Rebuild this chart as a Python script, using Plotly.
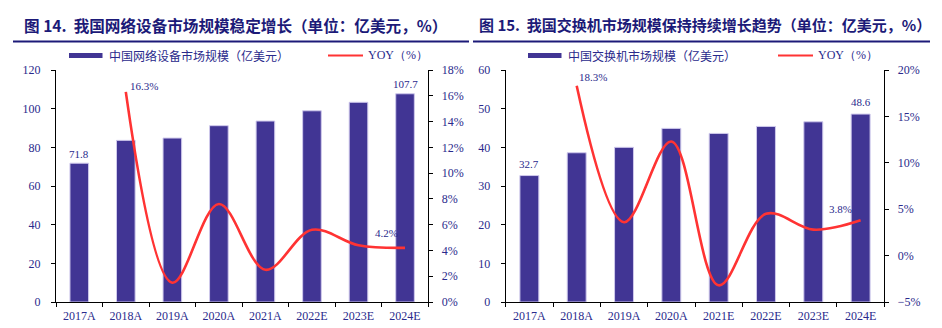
import plotly.graph_objects as go

# ---------------- data ----------------
cats1 = ["2017A", "2018A", "2019A", "2020A", "2021A", "2022E", "2023E", "2024E"]
market1 = [71.8, 83.6, 84.8, 91.2, 93.6, 98.9, 103.3, 107.7]
yoy1 = [None, 16.3, 1.5, 7.6, 2.5, 5.6, 4.4, 4.2]

cats2 = ["2017A", "2018A", "2019A", "2020A", "2021E", "2022E", "2023E", "2024E"]
market2 = [32.7, 38.6, 40.0, 44.9, 43.6, 45.4, 46.6, 48.6]
yoy2 = [None, 18.3, 3.6, 12.3, -3.2, 4.5, 2.8, 3.8]

title1 = "图 14.  我国网络设备市场规模稳定增长（单位：亿美元，%）"
title2 = "图 15.  我国交换机市场规模保持持续增长趋势（单位：亿美元，%）"
legend_bar1 = "中国网络设备市场规模（亿美元）"
legend_bar2 = "中国交换机市场规模（亿美元）"
legend_line = "YOY（%）"

# ---------------- styles ----------------
W, H = 942, 328
BAR = "#413594"
BAR_EDGE = "#cfc9ec"
RED = "#ff3333"
NAVY = "#2a2a8c"
TITLE_C = "#1c1a78"
SERIF = "Liberation Serif, Times New Roman, serif"
CJK = "Noto Sans CJK SC, sans-serif"


def px_x(v):
    return v / W


def px_y(v):
    return (H - v) / H


ydom = [px_y(302), px_y(70)]
xdom1 = [px_x(56), px_x(428.3)]
xdom2 = [px_x(505.7), px_x(884.3)]

fig = go.Figure()

fig.add_trace(go.Bar(x=cats1, y=market1, xaxis="x", yaxis="y", width=0.4,
                     marker=dict(color=BAR, line=dict(color=BAR_EDGE, width=1)),
                     showlegend=False))
fig.add_trace(go.Scatter(x=cats1[1:], y=yoy1[1:], xaxis="x", yaxis="y2", mode="lines",
                         line=dict(color=RED, width=2.6, shape="spline", smoothing=1.0),
                         showlegend=False))
fig.add_trace(go.Bar(x=cats2, y=market2, xaxis="x2", yaxis="y3", width=0.4,
                     marker=dict(color=BAR, line=dict(color=BAR_EDGE, width=1)),
                     showlegend=False))
fig.add_trace(go.Scatter(x=cats2[1:], y=yoy2[1:], xaxis="x2", yaxis="y4", mode="lines",
                         line=dict(color=RED, width=2.6, shape="spline", smoothing=1.0),
                         showlegend=False))

tickfont = dict(family=SERIF, size=12, color=NAVY)
common_axis = dict(showline=True, linecolor="black", linewidth=1.3, ticks="outside",
                   ticklen=4, tickcolor="black", tickwidth=1.2, showgrid=False,
                   zeroline=False, tickfont=tickfont, fixedrange=True, automargin=False)

fig.update_layout(
    width=W, height=H, margin=dict(l=0, r=0, t=0, b=0, pad=0), autosize=False,
    paper_bgcolor="white", plot_bgcolor="white", showlegend=False,
    xaxis=dict(domain=xdom1, anchor="y", type="category", range=[-0.5, 7.5],
               tickson="boundaries", ticklabelstandoff=2, **common_axis),
    yaxis=dict(domain=ydom, anchor="x", range=[0, 120], dtick=20,
               ticklabelstandoff=8, **common_axis),
    yaxis2=dict(overlaying="y", anchor="x", side="right", range=[0, 18], dtick=2,
                ticksuffix="%", ticklabelstandoff=6, **common_axis),
    xaxis2=dict(domain=xdom2, anchor="y3", type="category", range=[-0.5, 7.5],
                tickson="boundaries", ticklabelstandoff=2, **common_axis),
    yaxis3=dict(domain=ydom, anchor="x2", range=[0, 60], dtick=10,
                ticklabelstandoff=8, **common_axis),
    yaxis4=dict(overlaying="y3", anchor="x2", side="right", range=[-5, 20], dtick=5,
                ticksuffix="%", ticklabelstandoff=6, **common_axis),
)

ann = []
lblfont = dict(family=SERIF, size=11, color=NAVY)
# data labels
ann.append(dict(x=cats1[0], y=market1[0], xref="x", yref="y", text=f"{market1[0]}",
                showarrow=False, yanchor="bottom", yshift=1, font=lblfont))
ann.append(dict(x=cats1[-1], y=market1[-1], xref="x", yref="y", text=f"{market1[-1]}",
                showarrow=False, yanchor="bottom", yshift=2, font=lblfont))
ann.append(dict(x=cats1[1], y=yoy1[1], xref="x", yref="y2", text=f"{yoy1[1]}%",
                showarrow=False, xshift=18, yshift=6, font=lblfont))
ann.append(dict(x=cats1[-1], y=yoy1[-1], xref="x", yref="y2", text=f"{yoy1[-1]}%",
                showarrow=False, xshift=-19, yshift=15, font=lblfont))
ann.append(dict(x=cats2[0], y=market2[0], xref="x2", yref="y3", text=f"{market2[0]}",
                showarrow=False, yanchor="bottom", yshift=4, font=lblfont))
ann.append(dict(x=cats2[-1], y=market2[-1], xref="x2", yref="y3", text=f"{market2[-1]}",
                showarrow=False, yanchor="bottom", yshift=4, font=lblfont))
ann.append(dict(x=cats2[1], y=yoy2[1], xref="x2", yref="y4", text=f"{yoy2[1]}%",
                showarrow=False, xshift=16, yshift=9, font=lblfont))
ann.append(dict(x=cats2[-1], y=yoy2[-1], xref="x2", yref="y4", text=f"{yoy2[-1]}%",
                showarrow=False, xshift=-20, yshift=11, font=lblfont))

# titles
ann.append(dict(x=px_x(22), y=px_y(25), xref="paper", yref="paper", text=f"<b>{title1}</b>",
                showarrow=False, xanchor="left", yanchor="middle",
                font=dict(family=CJK, size=15.6, color=TITLE_C)))
ann.append(dict(x=px_x(477), y=px_y(25), xref="paper", yref="paper", text=f"<b>{title2}</b>",
                showarrow=False, xanchor="left", yanchor="middle",
                font=dict(family=CJK, size=15, color=TITLE_C)))

# legends
lfont = dict(family=CJK, size=12, color=NAVY)
for xt, xlt, txt in [(106.5, 365.5, legend_bar1), (565.5, 815.5, legend_bar2)]:
    ann.append(dict(x=px_x(xt), y=px_y(55.5), xref="paper", yref="paper", text=txt,
                    showarrow=False, xanchor="left", yanchor="middle", font=lfont))
    ann.append(dict(x=px_x(xlt), y=px_y(55.5), xref="paper", yref="paper", text=legend_line,
                    showarrow=False, xanchor="left", yanchor="middle",
                    font=dict(family=SERIF, size=12, color=NAVY)))

shapes = [
    dict(type="line", xref="paper", yref="paper", x0=px_x(13), x1=px_x(469),
         y0=px_y(41.5), y1=px_y(41.5), line=dict(color=TITLE_C, width=2)),
    dict(type="line", xref="paper", yref="paper", x0=px_x(473), x1=px_x(930),
         y0=px_y(41.5), y1=px_y(41.5), line=dict(color=TITLE_C, width=2)),
]
for xr, xl in [(69, 328), (528, 778)]:
    shapes.append(dict(type="rect", xref="paper", yref="paper", x0=px_x(xr), x1=px_x(xr + 33.5),
                       y0=px_y(58), y1=px_y(53), fillcolor=BAR, line=dict(width=0)))
    shapes.append(dict(type="line", xref="paper", yref="paper", x0=px_x(xl), x1=px_x(xl + 35),
                       y0=px_y(55.5), y1=px_y(55.5), line=dict(color=RED, width=2)))

fig.update_layout(annotations=ann, shapes=shapes)
fig.write_html("out.html")
